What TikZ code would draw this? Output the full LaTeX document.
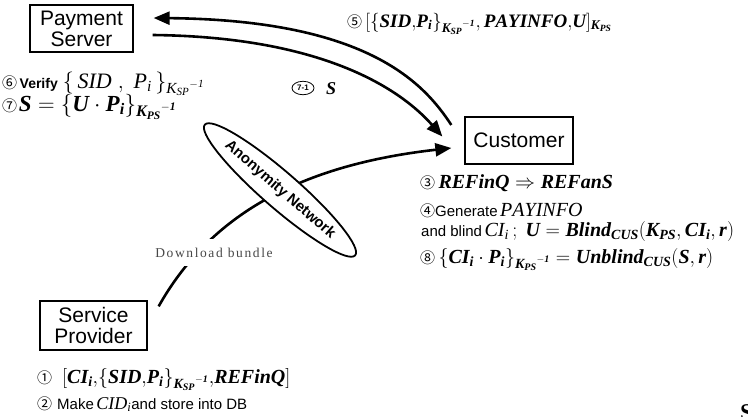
\RequirePackage{fix-cm}
\documentclass[tikz,border=0pt]{standalone}
\usepackage{fontspec}
\setmainfont{Liberation Serif}
\setsansfont{Liberation Sans}
\newfontfamily\tms[NFSSFamily=tmsf]{Liberation Serif}
\newfontfamily\circf{Noto Sans CJK JP}
\DeclareMathAlphabet{\mbi}{TU}{tmsf}{\bfdefault}{it}
\DeclareMathAlphabet{\mti}{TU}{tmsf}{m}{it}
\usetikzlibrary{arrows.meta,shapes.geometric,calc}
\newcommand\cnum[1]{{\circf\fontsize{15}{15}\selectfont #1}}
\newcommand\kinv[1]{{K_{#1}}^{-1}}
\begin{document}
\begin{tikzpicture}[x=1pt,y=-1pt,
  box/.style={draw, line width=1.3pt, fill=white, align=center, inner sep=0pt,
    font=\fontsize{21}{21}\selectfont\sffamily},
  flow/.style={line width=2.6pt, -{Triangle[length=16pt,width=13pt]}},
  lbl/.style={anchor=base west, inner sep=0pt},
  mth/.style={font=\fontsize{20}{22}\selectfont},
  snf/.style={font=\fontsize{15}{17}\selectfont\sffamily}]
\useasboundingbox (0,0) rectangle (748,416);

% boxes
\node[box, minimum width=103pt, minimum height=47pt] (pay) at (81.5,28.5) {Payment\\Server};
\node[box, minimum width=108pt, minimum height=47pt] (cus) at (519,140.5) {Customer};
\node[box, minimum width=107pt, minimum height=49pt] (sp) at (93.5,325.5) {Service\\Provider};

% connector end points
\coordinate (u1) at ($(cus.west)+(-13,-15.5)$);
\coordinate (u2) at ($(pay.east)+(20,-10.5)$);
\coordinate (l1) at ($(pay.east)+(19,6.5)$);
\coordinate (l2) at ($(cus.west)+(-22,-4)$);
\coordinate (a1) at ($(sp.north east)+(11,6)$);
\coordinate (a2) at ($(cus.west)+(-13,7.5)$);

\draw[flow] (u1) .. controls (425,85) and (370,20) .. (u2);
\draw[flow] (l1) .. controls (340,37) and (410,100) .. (l2);
\draw[flow] (a1) .. controls (210,215) and (300,165) .. (a2);

% label on the lower connector and the anonymity network
\node[anchor=base, fill=white, inner xsep=1pt, inner ysep=9pt, text=black!72,
  font=\fontsize{13.5}{15}\selectfont\addfontfeature{LetterSpace=12}] (dl) at (214,257) {Download bundle};
\node[ellipse, draw, line width=1.8pt, fill=white, minimum width=188pt, minimum height=36pt,
  inner sep=0pt, rotate=-41, font=\fontsize{15}{16}\selectfont\sffamily\bfseries] (an) at (280,190) {Anonymity Network};

% payment server labels
\node[lbl, font=\fontsize{19}{21}\selectfont] (t5) at (347,27) {\cnum{⑤}\,$\mbi{[\{SID{,}P_i\}_{\kinv{SP}}{,}\,PAYINFO{,}U]_{K_{PS}}}$};
\node[lbl] (t6) at (2,88) {\cnum{⑥} {\fontsize{14}{16}\selectfont\sffamily\bfseries Verify}\ \ {\fontsize{22}{24}\selectfont$\mti{\{\,SID\;,\;P_i\,\}_{\kinv{SP}}}$}};
\node[lbl] (t7) at (2,111) {\cnum{⑦}\,{\fontsize{23}{25}\selectfont$\mbi{S=\{U\cdot P_i\}_{\kinv{PS}}}$}};
\node[ellipse, draw, line width=0.8pt, inner xsep=2pt, inner ysep=2pt, font=\fontsize{8}{8}\selectfont\sffamily\bfseries] (c71) at (303,88) {7-1};
\node[font=\fontsize{18}{20}\selectfont, anchor=base west, inner sep=0pt] (s71) at (326,94) {$\mbi{S}$};

% customer labels
\node[lbl, mth] (t3) at (420,188) {\cnum{③}\,$\mbi{REFinQ\Rightarrow REFanS}$};
\node[lbl] (t4) at (420,216) {\cnum{④}{\fontsize{15}{17}\selectfont\sffamily Generate} {\fontsize{20}{22}\selectfont$\mti{PAYINFO}$}};
\node[lbl] (t4b) at (421,236) {{\fontsize{15}{17}\selectfont\sffamily and blind} {\fontsize{20}{22}\selectfont$\mti{CI_i}\,;\ \mbi{U=Blind_{CUS}(K_{PS},CI_i,r)}$}};
\node[lbl, mth] (t8) at (420,263) {\cnum{⑧}\,$\mbi{\{CI_i\cdot P_i\}_{\kinv{PS}}=Unblind_{CUS}(S,r)}$};

% service provider labels
\node[lbl, mth] (t1) at (37,383) {\cnum{①}\ \ $\mbi{[CI_i{,}\{SID{,}P_i\}_{\kinv{SP}}{,}REFinQ]}$};
\node[lbl] (t2) at (37,409) {\cnum{②}\ \ {\fontsize{15}{17}\selectfont\sffamily Make} {\fontsize{18}{20}\selectfont$\mti{CID_i}$}{\fontsize{15}{17}\selectfont\sffamily and store into DB}};

% cut-off letter at the corner
\node[anchor=north west, inner sep=0pt, font=\fontsize{24}{24}\selectfont\bfseries] (sc) at (740,404) {S};
\end{tikzpicture}
\end{document}
